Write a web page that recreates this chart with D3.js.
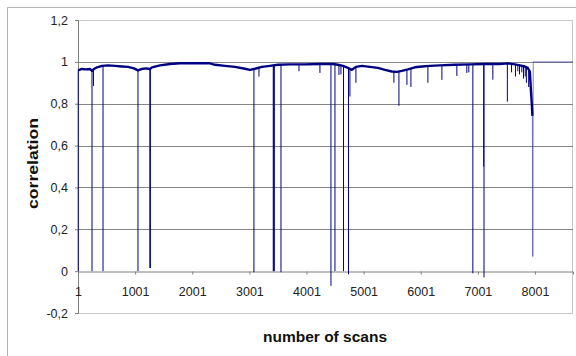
<!DOCTYPE html>
<html>
<head>
<meta charset="utf-8">
<script src="https://cdn.jsdelivr.net/npm/d3@7"></script>
<style>
    body { margin: 0; background: #fff; }
    svg { display: block; font-family: "Liberation Sans", Arial, sans-serif; }
</style>
</head>
<body>
<div id="chart"></div>
<script>
// tick values
const xTicks = [1, 1001, 2001, 3001, 4001, 5001, 6001, 7001, 8001];
const yTicks = [-0.2, 0, 0.2, 0.4, 0.6, 0.8, 1, 1.2];

// main correlation trace
const baseScans = [1, 71, 141, 211, 246, 281, 334, 421, 526, 648, 771, 876, 981, 1051, 1121, 1191,
    1261, 1296, 1436, 1611, 1786, 2049, 2311, 2399, 2574, 2749, 2924, 3011, 3099, 3221, 3361, 3501,
    3711, 3974, 4236, 4464, 4551, 4639, 4726, 4796, 4866, 4971, 5111, 5251, 5374, 5496, 5584, 5671,
    5776, 5898, 6021, 6161, 6336, 6598, 6861, 7124, 7386, 7526, 7649, 7736, 7824, 7876, 7911, 7929,
    7946, 7955];
const baseValues = [0.959, 0.966, 0.964, 0.966, 0.957, 0.966, 0.974, 0.981, 0.983, 0.981, 0.978, 0.976, 0.969, 0.959, 0.966, 0.969,
    0.966, 0.974, 0.983, 0.990, 0.993, 0.993, 0.993, 0.986, 0.981, 0.976, 0.967, 0.962, 0.967, 0.976, 0.981, 0.986,
    0.988, 0.988, 0.990, 0.990, 0.986, 0.981, 0.971, 0.962, 0.976, 0.981, 0.976, 0.971, 0.962, 0.954, 0.952, 0.957,
    0.964, 0.974, 0.978, 0.981, 0.983, 0.986, 0.988, 0.990, 0.990, 0.993, 0.988, 0.983, 0.978, 0.971, 0.952, 0.866,
    0.794, 0.742];

// last scans after the drop
const tailScans = [7962, 7970, 8666];
const tailValues = [0.07, 1.0, 1.0];

// single-scan drops below the trace
const spikeScans = [5, 246, 272, 439, 1051, 1259, 1268, 3081, 3169, 3419, 3428, 3437, 3554, 3869, 4236,
    4429, 4499, 4569, 4604, 4649, 4736, 4761, 4866, 5531, 5619, 5759, 5829, 6126, 6371, 6633, 6808,
    6843, 6913, 7103, 7108, 7263, 7517, 7590, 7660, 7700, 7730, 7770, 7800, 7830, 7850, 7890];
const spikeValues = [0.0, 0.0, 0.885, 0.0, 0.0, 0.015, 0.015, -0.005, 0.93, 0.0, 0.0, 0.0, -0.005, 0.955, 0.947,
    -0.07, 0.0, 0.937, 0.94, 0.0, -0.015, 0.834, 0.9, 0.9, 0.79, 0.89, 0.88, 0.9, 0.914, 0.933, 0.947,
    0.95, -0.01, 0.5, -0.03, 0.915, 0.81, 0.95, 0.93, 0.955, 0.94, 0.95, 0.92, 0.93, 0.9, 0.88];

const width = 576, height = 356;
const margin = {top: 20, right: 3, bottom: 43, left: 78};

const svg = d3.select("#chart").append("svg")
    .attr("width", width)
    .attr("height", height);

// outer chart frame
svg.append("path")
    .attr("d", `M7.5,${height} V7.5 H${width}`)
    .attr("fill", "none")
    .attr("stroke", "#b4b4b4");

const x = d3.scaleLinear()
    .domain([1, 8666])
    .range([margin.left, width - margin.right]);

const y = d3.scaleLinear()
    .domain([-0.2, 1.2])
    .range([height - margin.bottom, margin.top]);

const fmt = d3.formatLocale({decimal: ",", thousands: ".", grouping: [3], currency: ["", ""], minus: "-"})
    .format(".1~f");

// plot area border
svg.append("rect")
    .attr("x", x(1) + 0.5)
    .attr("y", y(1.2) + 0.5)
    .attr("width", x(8666) - x(1) - 1)
    .attr("height", y(-0.2) - y(1.2))
    .attr("fill", "none")
    .attr("stroke", "#c8c8c8");

// gridlines
svg.append("g")
    .selectAll("line")
    .data(yTicks.filter(d => d > 0 && d < 1.2))
    .join("line")
    .attr("x1", x(1))
    .attr("x2", x(8666))
    .attr("y1", d => Math.round(y(d)) + 0.5)
    .attr("y2", d => Math.round(y(d)) + 0.5)
    .attr("stroke", "#858585");

// y axis
const yAxis = svg.append("g")
    .attr("transform", `translate(${x(1)}, 0)`)
    .call(d3.axisLeft(y).tickValues(yTicks).tickSize(3).tickPadding(7).tickFormat(fmt));
yAxis.select(".domain").attr("stroke", "#808080");
yAxis.selectAll(".tick line").attr("stroke", "#808080");
yAxis.selectAll("text")
    .attr("fill", "#222")
    .style("font-size", "12.5px");

// x axis along zero
const xAxis = svg.append("g")
    .attr("transform", `translate(0, ${Math.round(y(0)) + 0.5})`)
    .call(d3.axisBottom(x).tickValues(xTicks).tickSize(3).tickPadding(13).tickFormat(d3.format("d")));
xAxis.select(".domain").attr("stroke", "#808080");
xAxis.selectAll(".tick line").attr("stroke", "#808080");
xAxis.selectAll("text")
    .attr("fill", "#222")
    .style("font-size", "12.5px");

// spikes start on the trace
const trace = d3.scaleLinear().domain(baseScans).range(baseValues);

svg.append("g")
    .selectAll("line")
    .data(spikeScans.map((s, i) => [s, spikeValues[i]]))
    .join("line")
    .attr("x1", d => x(d[0]))
    .attr("x2", d => x(d[0]))
    .attr("y1", d => y(trace(d[0])))
    .attr("y2", d => y(d[1]))
    .attr("stroke", "#000080")
    .attr("stroke-width", 1);

const line = d3.line()
    .x(d => x(d[0]))
    .y(d => y(d[1]));

const basePoints = baseScans.map((s, i) => [s, baseValues[i]]);
const tailPoints = [basePoints[basePoints.length - 1]]
    .concat(tailScans.map((s, i) => [s, tailValues[i]]));

// thin tail drawn first so the trace sits on top
svg.append("path")
    .datum(tailPoints)
    .attr("d", line)
    .attr("fill", "none")
    .attr("stroke", "#2a2aa8")
    .attr("stroke-opacity", 0.6)
    .attr("stroke-width", 1);

svg.append("path")
    .datum(basePoints)
    .attr("d", line)
    .attr("fill", "none")
    .attr("stroke", "#000080")
    .attr("stroke-width", 2.4)
    .attr("stroke-linejoin", "round");

// axis titles
svg.append("text")
    .attr("x", 325)
    .attr("y", 342)
    .attr("text-anchor", "middle")
    .attr("font-weight", "bold")
    .attr("font-size", "15.5px")
    .attr("fill", "#111")
    .text("number of scans");

svg.append("text")
    .attr("transform", "translate(37.5, 163.5) rotate(-90)")
    .attr("text-anchor", "middle")
    .attr("font-weight", "bold")
    .attr("font-size", "15.5px")
    .attr("textLength", 91)
    .attr("lengthAdjust", "spacingAndGlyphs")
    .attr("fill", "#111")
    .text("correlation");
</script>
</body>
</html>
